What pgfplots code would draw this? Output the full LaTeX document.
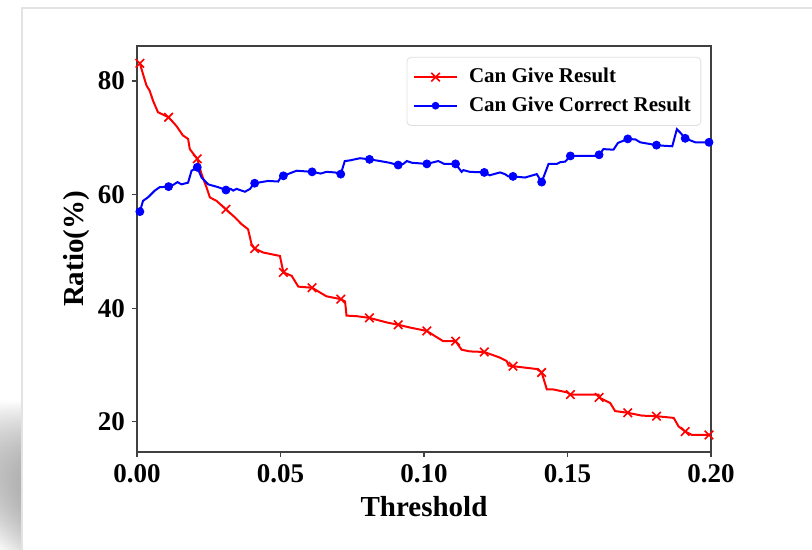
\documentclass[border=0pt]{standalone}
\usepackage{fontspec}
\setmainfont{Liberation Serif}
\usepackage{pgfplots}
\pgfplotsset{compat=1.18}
\usetikzlibrary{fadings}

% step-like curves
\pgfplotstableread{
x y
0.001 83.1
0.0021 81.2
0.0033 79.2
0.0044 78.3
0.0056 76.5
0.0073 74.5
0.011 73.6
0.0137 72.1
0.016 70.4
0.0178 69.8
0.0184 68.0
0.021 66.3
0.0225 63.6
0.0242 61.3
0.0254 59.5
0.0277 58.9
0.031 57.4
0.0341 56.0
0.0364 54.8
0.0387 53.9
0.0399 51.3
0.041 50.5
0.044 49.8
0.0498 49.2
0.051 46.3
0.0539 45.7
0.0562 43.8
0.061 43.6
0.066 42.1
0.071 41.6
0.0725 41.2
0.073 38.7
0.0765 38.6
0.081 38.3
0.087 37.5
0.091 37.1
0.0951 36.6
0.101 36.0
0.1038 35.1
0.1067 34.2
0.111 34.2
0.1131 32.7
0.116 32.4
0.121 32.3
0.1265 31.3
0.1288 30.7
0.1295 29.9
0.131 29.8
0.1393 29.3
0.141 28.7
0.1428 25.7
0.1451 25.7
0.1498 25.2
0.151 24.8
0.1608 24.8
0.161 24.3
0.1649 23.3
0.1666 21.9
0.171 21.6
0.1759 21.1
0.181 21.0
0.187 20.7
0.1887 19.2
0.191 18.3
0.1934 17.7
0.1993 17.7
}\givecurve

\pgfplotstableread{
x y
0.001 83.1
0.011 73.6
0.021 66.3
0.031 57.4
0.041 50.5
0.051 46.3
0.061 43.6
0.071 41.6
0.081 38.3
0.091 37.1
0.101 36.0
0.111 34.2
0.121 32.3
0.131 29.8
0.141 28.7
0.151 24.8
0.161 24.3
0.171 21.6
0.181 21.0
0.191 18.3
0.1993 17.7
}\givemarks

\pgfplotstableread{
x y
0.001 57.0
0.0021 58.9
0.0038 59.5
0.0062 60.7
0.0079 61.3
0.011 61.4
0.0126 61.7
0.0141 62.2
0.0155 61.8
0.0178 62.1
0.019 64.2
0.021 64.8
0.0225 63.0
0.0248 61.8
0.0283 61.3
0.031 60.8
0.0327 61.0
0.0335 60.7
0.0347 61.0
0.0376 60.5
0.0394 61.0
0.0405 61.8
0.041 62.0
0.0457 62.4
0.0492 62.3
0.0504 63.3
0.051 63.3
0.0556 64.2
0.061 64.0
0.064 63.7
0.066 64.0
0.069 63.9
0.071 63.6
0.0724 65.9
0.074 66.0
0.0777 66.4
0.081 66.2
0.0847 65.9
0.088 65.6
0.091 65.2
0.0928 65.4
0.094 65.9
0.0958 65.6
0.101 65.4
0.105 65.9
0.107 65.4
0.111 65.4
0.1131 64.0
0.1137 64.3
0.116 64.0
0.121 63.9
0.1229 63.4
0.1265 63.9
0.1282 63.6
0.1294 63.2
0.131 63.2
0.1352 63.0
0.1393 63.6
0.141 62.2
0.1434 65.4
0.1463 65.4
0.1475 65.7
0.1492 65.8
0.151 66.8
0.1608 66.8
0.161 67.0
0.1625 68.0
0.166 67.9
0.1676 69.1
0.1701 69.6
0.171 69.8
0.1737 69.7
0.1753 69.2
0.181 68.7
0.1834 68.6
0.1865 68.5
0.1881 71.5
0.1893 70.9
0.191 69.9
0.1945 69.2
0.1993 69.2
}\correctcurve

\pgfplotstableread{
x y
0.001 57.0
0.011 61.4
0.021 64.8
0.031 60.8
0.041 62.0
0.051 63.3
0.061 64.0
0.071 63.6
0.081 66.2
0.091 65.2
0.101 65.4
0.111 65.4
0.121 63.9
0.131 63.2
0.141 62.2
0.151 66.8
0.161 67.0
0.171 69.8
0.181 68.7
0.191 69.9
0.1993 69.2
}\correctmarks

\begin{document}
\begin{tikzpicture}
% page = 812 x 550 px, 1 px = 0.5pt; axis box at px (137,46)-(711,452)
\useasboundingbox (-68.5pt,-49pt) rectangle (337.5pt,226pt);

% frame of the original screenshot
\begin{scope}[shift={(-68.5pt,226pt)}, x=0.5pt, y=-0.5pt]
  \fill[left color=white, right color=gray!20, path fading=north] (0,400) rectangle (21,552);
  \draw[gray!22, line width=1pt] (22,552) -- (22,8) -- (815,8);
\end{scope}

\begin{axis}[
    at={(0,0)}, anchor=south west,
    scale only axis,
    width=287pt, height=203pt,
    xmin=0, xmax=0.2,
    ymin=14.7, ymax=86.15,
    xtick={0,0.05,...,0.2},
    ytick={20,40,60,80},
    scaled x ticks=false,
    xticklabel style={/pgf/number format/.cd, fixed, fixed zerofill, precision=2},
    /pgf/number format/assume math mode=true,
    tick label style={font=\fontsize{13.5}{14}\selectfont\bfseries},
    tick align=outside,
    major tick length=2.5pt,
    tick style={black!75, line width=0.6pt},
    xtick pos=bottom, ytick pos=left,
    axis line style={black!75, line width=1pt},
    xlabel={Threshold},
    ylabel={Ratio(\%)},
    ylabel style={yshift=-2.5pt},
    label style={font=\fontsize{14.5}{15}\selectfont\bfseries},
    legend style={
      at={(0.983,0.973)}, anchor=north east,
      draw=gray!25, rounded corners=2pt,
      font=\fontsize{10.5}{12}\selectfont\bfseries,
      row sep=1.5pt, inner xsep=3pt, inner ysep=3.5pt,
    },
    legend cell align=left,
    legend image code/.code={
      \draw[mark repeat=2, mark phase=2, #1] plot coordinates {(0pt,0pt) (10.75pt,0pt) (21.5pt,0pt)};
      \path (25pt,0pt);
    },
  ]
  \addplot[red, line width=1pt, forget plot] table[x=x, y=y] {\givecurve};
  \addplot[red, only marks, mark=x, mark size=3pt, line width=0.8pt, forget plot] table[x=x, y=y] {\givemarks};
  \addplot[blue, line width=1pt, forget plot] table[x=x, y=y] {\correctcurve};
  \addplot[blue, only marks, mark=*, mark size=2pt, forget plot] table[x=x, y=y] {\correctmarks};

  \addlegendimage{red, line width=1pt, mark=x, mark size=3pt, mark options={line width=0.8pt}}
  \addlegendentry{Can Give Result}
  \addlegendimage{blue, line width=1pt, mark=*, mark size=1.4pt}
  \addlegendentry{Can Give Correct Result}
\end{axis}
\end{tikzpicture}
\end{document}
